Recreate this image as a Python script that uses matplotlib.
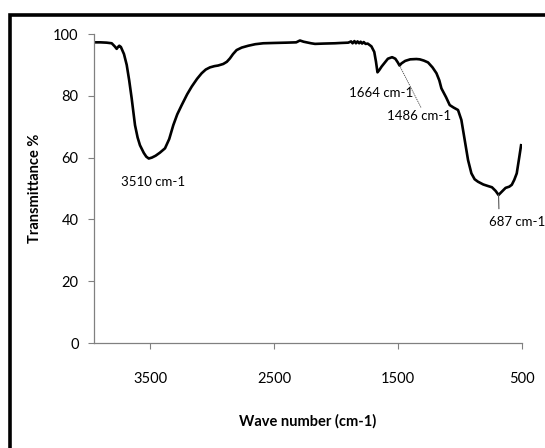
import matplotlib
matplotlib.use("Agg")
import matplotlib.pyplot as plt
from matplotlib.patches import Rectangle

plt.rcParams['font.family'] = ['Lato', 'DejaVu Sans']

# FTIR spectrum: wave number (cm-1) vs transmittance (%)
wavenumber = [3952, 3900, 3850, 3809, 3785, 3769, 3758, 3748, 3735, 3710,
              3688, 3668, 3648, 3621, 3600, 3581, 3550, 3530, 3510, 3485,
              3455, 3420, 3379, 3345, 3312, 3280, 3244, 3200, 3163, 3120,
              3083, 3050, 3016, 2980, 2950, 2909, 2880, 2855, 2830, 2801,
              2760, 2707, 2650, 2586, 2500, 2400, 2320, 2290, 2260, 2200,
              2168, 2100, 2007, 1960, 1900, 1877, 1865, 1850, 1838, 1825,
              1812, 1800, 1788, 1775, 1760, 1743, 1713, 1690, 1676, 1664,
              1650, 1630, 1610, 1580, 1546, 1520, 1500, 1486, 1470, 1440,
              1400, 1350, 1323, 1290, 1256, 1220, 1188, 1165, 1148, 1110,
              1081, 1050, 1014, 987, 960, 933, 906, 880, 853, 810,
              772, 740, 710, 687, 660, 630, 600, 580, 560, 540,
              519, 505]
transmittance = [97.3, 97.3, 97.2, 97.0, 96.0, 95.2, 95.8, 96.2, 95.8, 93.5,
                 90.0, 85.0, 79.2, 70.5, 66.5, 64.0, 61.5, 60.3, 59.7, 60.0,
                 60.6, 61.6, 63.0, 66.0, 70.5, 74.0, 77.0, 80.5, 83.0, 85.5,
                 87.3, 88.5, 89.2, 89.6, 89.8, 90.3, 91.0, 92.1, 93.5, 94.8,
                 95.6, 96.2, 96.7, 97.0, 97.1, 97.2, 97.3, 97.9, 97.5, 97.0,
                 96.8, 96.9, 97.0, 97.1, 97.2, 97.6, 97.0, 97.7, 97.0, 97.6,
                 97.0, 97.5, 96.9, 97.4, 96.8, 96.9, 96.0, 94.2, 91.0, 87.6,
                 88.3, 89.5, 90.5, 92.0, 92.5, 92.0, 90.8, 89.8, 90.5, 91.3,
                 91.8, 91.9, 91.8, 91.4, 90.8, 89.2, 87.3, 85.0, 82.4, 79.5,
                 77.0, 76.2, 75.4, 72.2, 65.7, 59.2, 54.9, 53.0, 52.2, 51.3,
                 50.8, 50.4, 49.2, 47.9, 49.0, 50.2, 50.6, 51.2, 52.8, 54.9,
                 60.3, 64.0]

peak_labels = ['3510 cm-1', '1664 cm-1', '1486 cm-1', '687 cm-1']
peak_x = [3510, 1664, 1486, 687]
peak_y = [59.7, 87.6, 89.8, 47.9]
label_x = [3476, 1633, 1326, 540]
label_y = [52.1, 80.8, 73.5, 39.2]

fig = plt.figure(figsize=(5.45, 4.48), dpi=100)
ax = fig.add_axes([94 / 545, 1 - 343 / 448, (521.7 - 94) / 545, (343 - 34) / 448])

ax.plot(wavenumber, transmittance, color='black', linewidth=1.9)

ax.set_xlim(3952, 500)
ax.set_ylim(0, 100)
ax.set_xticks([3500, 2500, 1500, 500])
ax.set_yticks([0, 20, 40, 60, 80, 100])

for side in ['top', 'right']:
    ax.spines[side].set_visible(False)
for side in ['left', 'bottom']:
    ax.spines[side].set_color('#808080')
    ax.spines[side].set_linewidth(0.9)

ax.tick_params(axis='y', direction='out', length=4, width=0.8, color='#808080',
               labelsize=10.5, pad=7)
ax.tick_params(axis='x', direction='out', length=4, width=0.8, color='#808080',
               labelsize=10.5, pad=17)

ax.set_xlabel('Wave number (cm-1)', fontsize=10.5, fontweight='bold', labelpad=20)
ax.set_ylabel('Transmittance %', fontsize=10.5, fontweight='bold', labelpad=8)

# peak labels with leader lines where the label sits away from the band
for i, txt in enumerate(peak_labels):
    ax.text(label_x[i], label_y[i], txt, fontsize=9.5, ha='center', va='center',
            clip_on=False)
ax.plot([peak_x[2], 1310], [peak_y[2], 76.0], color='#444444', linewidth=0.6,
        linestyle=(0, (1.5, 1)))
ax.plot([peak_x[3], 684], [peak_y[3], 43.5], color='#555555', linewidth=0.8)

# black frame around the whole chart area
fig.patches.append(Rectangle((10 / 545, -0.05), 1.2, 1 - 15 / 448 + 0.05,
                             transform=fig.transFigure, fill=False,
                             edgecolor='black', linewidth=2.6))

fig.savefig('out.png', dpi=100)
